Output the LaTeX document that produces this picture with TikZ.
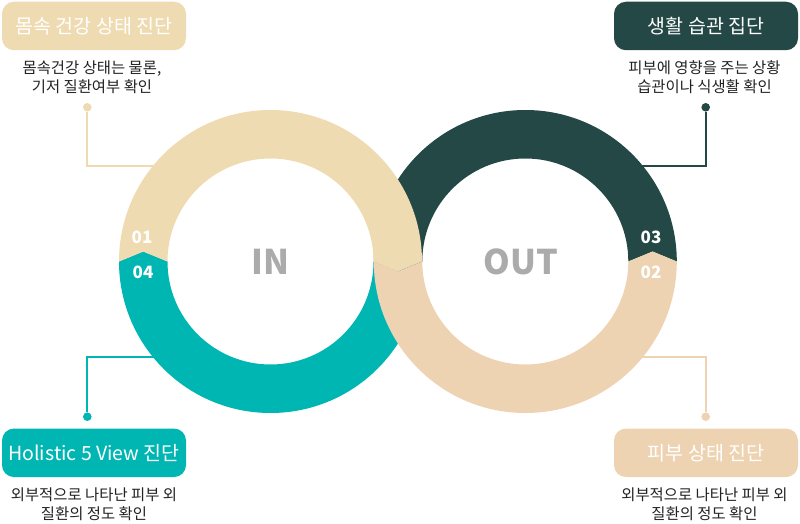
\documentclass[tikz,border=0pt]{standalone}
\usepackage{fontspec}
\setmainfont{Noto Sans CJK KR}
\definecolor{cbeige}{HTML}{EFDBB2}
\definecolor{cteal}{HTML}{00B6B2}
\definecolor{cdark}{HTML}{244846}
\definecolor{ctan}{HTML}{EDD3B2}
\definecolor{cgray}{HTML}{ABABAB}
\definecolor{ctext}{HTML}{222222}
\tikzset{
  titlebox/.style={rounded corners=12pt, minimum width=184pt, minimum height=48.5pt, inner sep=0pt, text=white, font=\fontsize{19.5}{22}\selectfont},
  desc/.style={align=center, text=ctext, font=\fontsize{15.4}{19}\selectfont, inner sep=0pt},
  num/.style={text=white, font=\fontsize{17}{20}\selectfont\bfseries, inner sep=0pt},
  big/.style={text=cgray, font=\fontsize{34}{40}\selectfont\bfseries, inner sep=0pt},
  conn/.style={line width=1.7pt},
  dotmark/.style={circle, inner sep=0pt, minimum size=8.6pt},
}
\begin{document}
\begin{tikzpicture}[x=1pt,y=1pt]
\useasboundingbox (0,0) rectangle (800,523);
% connectors (behind rings)
\node[dotmark, fill=cbeige] (dTL) at (87.3,415.7) {};
\coordinate (eTL) at (185,357.3);
\draw[conn, cbeige] (dTL) |- (eTL);
\node[dotmark, fill=cdark] (dTR) at (705.7,415.7) {};
\coordinate (eTR) at (610,357.3);
\draw[conn, cdark] (dTR) |- (eTR);
\node[dotmark, fill=cteal] (dBL) at (87.3,106.3) {};
\coordinate (eBL) at (185,165.7);
\draw[conn, cteal] (dBL) |- (eBL);
\node[dotmark, fill=ctan] (dBR) at (705.7,106.3) {};
\coordinate (eBR) at (610,165.7);
\draw[conn, ctan] (dBR) |- (eBR);
% rings
\coordinate (L) at (270.5,261.5);
\coordinate (R) at (525.3,261.5);
\begin{scope}[shift={(L)}]
  % 04 teal: bottom half of left ring
  \fill[cteal] (151.5,0) arc[start angle=0, end angle=-180, radius=151.5]
    -- (-127.25,10) -- (-103,0) arc[start angle=-180, end angle=0, radius=103]
    -- (127.25,-10) -- cycle;
\end{scope}
\begin{scope}[shift={(R)}]
  % 03 dark: top half of right ring
  \fill[cdark] (151.5,0) arc[start angle=0, end angle=180, radius=151.5]
    -- (-127.25,-10) -- (-103,0) arc[start angle=180, end angle=0, radius=103]
    -- (127.25,10) -- cycle;
\end{scope}
\begin{scope}[shift={(L)}]
  % 01 beige: top half of left ring
  \fill[cbeige] (-151.5,0) arc[start angle=180, end angle=0, radius=151.5]
    -- (127.25,-10) -- (103,0) arc[start angle=0, end angle=180, radius=103]
    -- (-127.25,10) -- cycle;
\end{scope}
\begin{scope}[shift={(R)}]
  % 02 tan: bottom half of right ring
  \fill[ctan] (-151.5,0) arc[start angle=180, end angle=360, radius=151.5]
    -- (127.25,10) -- (103,0) arc[start angle=360, end angle=180, radius=103]
    -- (-127.25,-10) -- cycle;
\end{scope}
% labels in rings
\node[big] (tin) at (270.5,261) {IN};
\node[big] (tout) at (521,261) {OUT};
\node[num] (n01) at (142,286) {01};
\node[num] (n04) at (143,250.3) {04};
\node[num] (n03) at (651,286) {03};
\node[num] (n02) at (651,250.3) {02};
% title boxes
\node[titlebox, fill=cbeige] (bTL) at (94,497) {몸속 건강 상태 진단};
\node[titlebox, fill=cdark] (bTR) at (706,497) {생활 습관 집단};
\node[titlebox, fill=cteal] (bBL) at (94,70.2) {Holistic 5 View 진단};
\node[titlebox, fill=ctan] (bBR) at (706,70.2) {피부 상태 진단};
% descriptions
\node[desc] (tTL) at (92,445.8) {몸속건강 상태는 물론,\\ 기저 질환여부 확인};
\node[desc] (tTR) at (704.5,445.8) {피부에 영향을 주는 상황\\습관이나 식생활 확인};
\node[desc] (tBL) at (94,19.2) {외부적으로 나타난 피부 외\\질환의 정도 확인};
\node[desc] (tBR) at (704.5,19.2) {외부적으로 나타난 피부 외\\질환의 정도 확인};
\end{tikzpicture}
\end{document}
